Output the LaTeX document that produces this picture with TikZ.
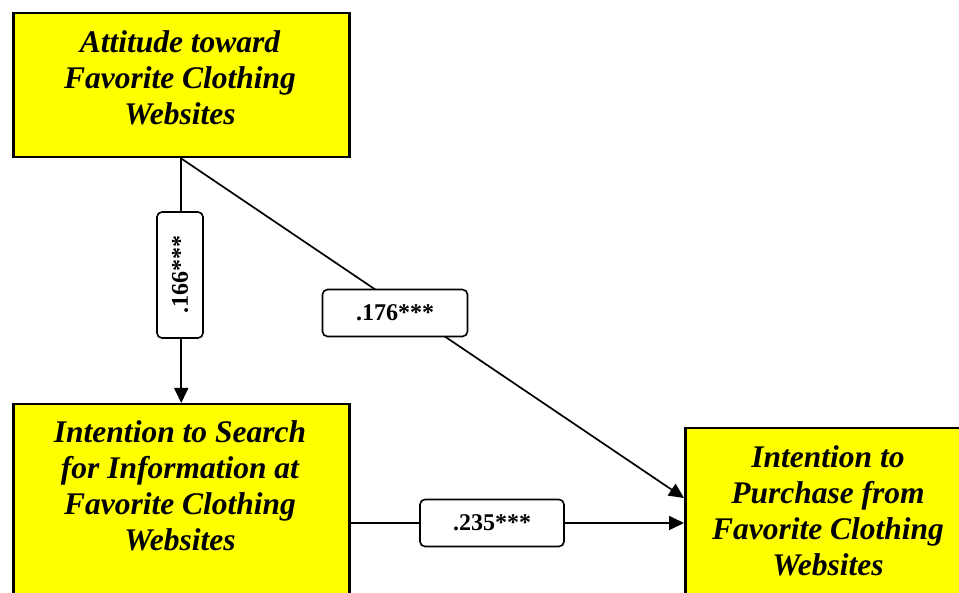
\documentclass[tikz,border=0pt]{standalone}
\usepackage{fontspec}
\setmainfont{Liberation Serif}
\usetikzlibrary{arrows.meta}
\definecolor{boxyellow}{RGB}{255,255,0}
\begin{document}
\begin{tikzpicture}[x=1pt,y=-1pt,
  construct/.style={draw=black, line width=2.5pt, fill=boxyellow, anchor=north west, inner sep=0pt},
  ctext/.style={font=\fontsize{31.5}{36}\selectfont\bfseries\itshape, align=center, inner sep=0pt, anchor=north},
  coef/.style={draw=black, line width=1.6pt, fill=white, rounded corners=5pt,
               font=\fontsize{24}{26}\selectfont\bfseries, inner sep=0pt},
  link/.style={line width=1.7pt, -{Triangle[length=15pt,width=14pt]}}
]
\useasboundingbox (0,0) rectangle (959,593);
\clip (0,0) rectangle (959,593);

% constructs
\node[construct, minimum width=336pt, minimum height=144pt] (att) at (12,12) {};
\node[ctext] (attT) at (180,30) {Attitude toward\\Favorite Clothing\\Websites};

\node[construct, minimum width=336pt, minimum height=220pt] (srch) at (12,403) {};
\node[ctext] (srchT) at (180,420) {Intention to Search\\for Information at\\Favorite Clothing\\Websites};

\node[construct, minimum width=288pt, minimum height=200pt] (pur) at (684,427) {};
\node[ctext] (purT) at (828,445) {Intention to\\Purchase from\\Favorite Clothing\\Websites};

% connector end points
\coordinate (diagEnd) at (684,498);
\coordinate (hy) at (0,523);

% paths
\draw[link] (att.south) -- (srch.north);
\draw[link] (att.south) -- (diagEnd);
\draw[link] (srch.east |- hy) -- (pur.west |- hy);

% coefficients
\node[coef, rotate=90, minimum width=126pt, minimum height=46pt] (c1) at (180,275) {.166***};
\node[coef, minimum width=145pt, minimum height=47pt] (c2) at (395,313) {.176***};
\node[coef, minimum width=144pt, minimum height=47pt] (c3) at (492,523) {.235***};
\end{tikzpicture}
\end{document}
